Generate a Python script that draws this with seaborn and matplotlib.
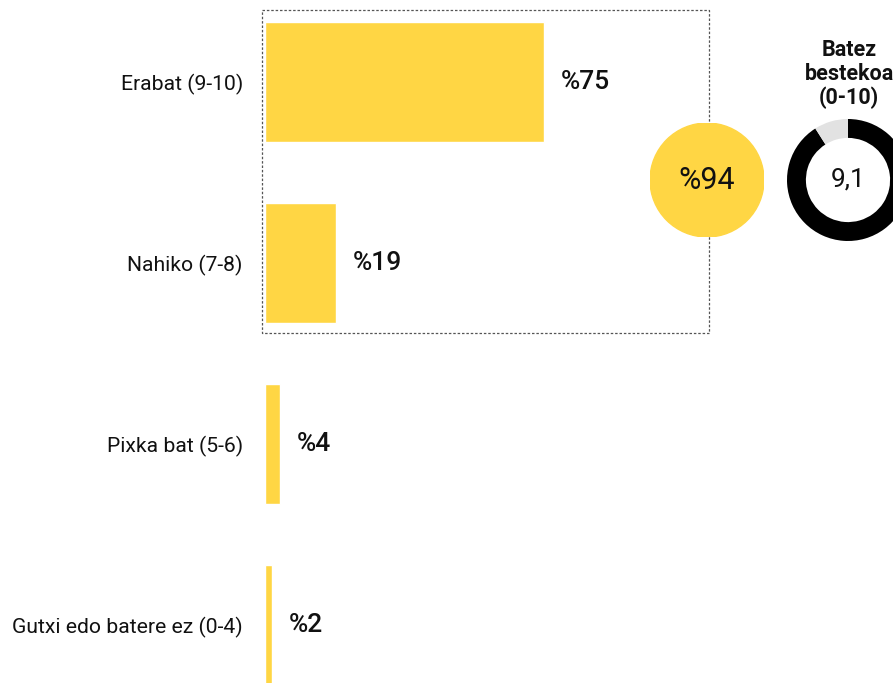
import matplotlib
matplotlib.use("Agg")
import matplotlib.pyplot as plt
import matplotlib.patches as mpatches
import seaborn as sns
import pandas as pd

# data
categories = ["Erabat (9-10)", "Nahiko (7-8)", "Pixka bat (5-6)", "Gutxi edo batere ez (0-4)"]
values = [75, 19, 4, 2]
top_two_share = 94          # %94 = Erabat + Nahiko
mean_score = 9.1            # Batez bestekoa (0-10)
scale_max = 10

yellow = "#FFD644"
grey = "#E2E2E2"

sns.set_theme(style="white")
plt.rcParams["font.family"] = ["Roboto", "DejaVu Sans"]

W, H = 893, 683
fig = plt.figure(figsize=(W / 100, H / 100), dpi=100)

def px_axes(x0, y0, w, h):
    # pixel box (top-left origin) -> figure fraction
    return fig.add_axes([x0 / W, 1 - (y0 + h) / H, w / W, h / H])

ax = px_axes(265, 0, 628, 683)
df = pd.DataFrame({"cat": categories, "val": values})
sns.barplot(data=df, x="val", y="cat", orient="h", color=yellow, width=0.663,
            saturation=1, ax=ax)
ax.set_xlim(0, 169)
ax.set_ylim(3.32, -0.453)
ax.set_xlabel("")
ax.set_ylabel("")
ax.set_xticks([])
ax.tick_params(axis="y", length=0, pad=16, labelsize=15.2, labelcolor="#111111")
for s in ax.spines.values():
    s.set_visible(False)

ax.bar_label(ax.containers[0], labels=[f"%{v}" for v in values], padding=12,
             fontsize=19, fontweight="medium", color="#111111")

# dotted box around the first two bars
box = mpatches.Rectangle((-0.8, -0.398), 120.2, 1.785, fill=False,
                         linestyle=(0, (2, 1.5)), linewidth=0.9,
                         edgecolor="#555555", clip_on=False)
ax.add_patch(box)

# yellow circle with the combined share
cax = px_axes(650, 123, 114, 114)
cax.add_patch(mpatches.Circle((0, 0), 1, color=yellow))
cax.text(0, 0, f"%{top_two_share}", ha="center", va="center", fontsize=22,
         color="#111111")
cax.set_xlim(-1, 1)
cax.set_ylim(-1, 1)
cax.set_aspect("equal")
cax.axis("off")

# donut with the mean score
dax = px_axes(787, 119, 122, 122)
dax.pie([mean_score, scale_max - mean_score], colors=["#000000", grey],
        startangle=90, counterclock=False, radius=1,
        wedgeprops=dict(width=0.31, linewidth=0))
dax.text(0, 0, f"{mean_score}".replace(".", ","), ha="center", va="center",
         fontsize=19, color="#111111")
dax.set_xlim(-1, 1)
dax.set_ylim(-1, 1)
dax.set_aspect("equal")
dax.axis("off")

fig.text(849 / W, 1 - 74 / H, "Batez\nbestekoa\n(0-10)", ha="center", va="center",
         fontsize=15.5, fontweight="bold", linespacing=1.1, color="#111111")

fig.savefig("out.png", dpi=100)
